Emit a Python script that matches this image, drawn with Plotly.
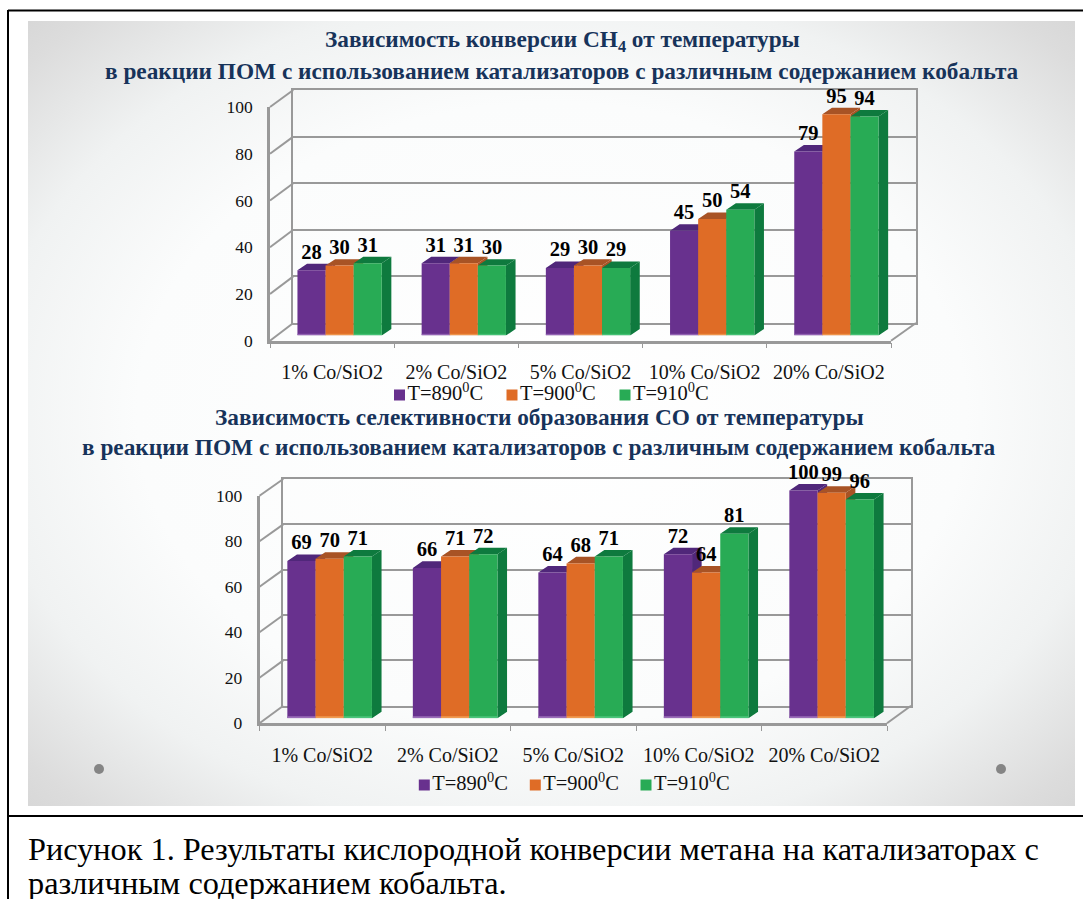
import base64
import plotly.graph_objects as go

categories = ["1% Co/SiO2", "2% Co/SiO2", "5% Co/SiO2", "10% Co/SiO2", "20% Co/SiO2"]
series_names = ["T=890<sup>0</sup>C", "T=900<sup>0</sup>C", "T=910<sup>0</sup>C"]
conv_890 = [28, 31, 29, 45, 79]
conv_900 = [30, 31, 30, 50, 95]
conv_910 = [31, 30, 29, 54, 94]
sel_890 = [69, 66, 64, 72, 100]
sel_900 = [70, 71, 68, 64, 99]
sel_910 = [71, 72, 71, 81, 96]
y_ticks = [0, 20, 40, 60, 80, 100]

W, H = 1083, 899
SERIF = "Liberation Serif"
FRONT = ["#68318E", "#DF6C26", "#28AB55"]
DARK = ["#50277A", "#A85325", "#0E7A3E"]
LIGHT = ["#9A6CB8", "#F09A50", "#4AC47A"]
GRID = "#999999"
NAVY = "#17335A"
Y_TOP = 125


def fx(p):
    return p / W


def fy(p):
    return 1 - p / H


svg = (
    '<svg xmlns="http://www.w3.org/2000/svg" width="1047" height="785">'
    '<defs><radialGradient id="g" cx="0.5" cy="0.5" r="0.72">'
    '<stop offset="0" stop-color="#ffffff"/><stop offset="0.55" stop-color="#fbfcfc"/>'
    '<stop offset="0.75" stop-color="#f0f2f2"/><stop offset="0.93" stop-color="#dcdcdc"/>'
    '<stop offset="1" stop-color="#d6d6d6"/>'
    '</radialGradient></defs><rect width="1047" height="785" fill="url(#g)"/></svg>'
)
bg = "data:image/svg+xml;base64," + base64.b64encode(svg.encode()).decode()

fig = go.Figure()
layout = dict(
    width=W, height=H, margin=dict(l=0, r=0, t=0, b=0, pad=0, autoexpand=False), autosize=False,
    paper_bgcolor="white", plot_bgcolor="rgba(0,0,0,0)", showlegend=False,
    barmode="overlay", hovermode=False,
    font=dict(family=SERIF, color="black", size=16),
    images=[dict(source=bg, xref="paper", yref="paper", x=fx(28), y=fy(21),
                 sizex=1047 / W, sizey=785 / H, sizing="stretch", layer="below",
                 xanchor="left", yanchor="top")],
)
shapes = []
annotations = []

# page axis for frame, dots and legend keys
layout["xaxis"] = dict(domain=[0, 1], range=[0, W], visible=False)
layout["yaxis"] = dict(domain=[0, 1], range=[H, 0], visible=False)


def seg(x0, y0, x1, y1, color=GRID, width=2, layer="below"):
    shapes.append(dict(type="line", xref="x", yref="y", x0=x0, y0=y0, x1=x1, y1=y1,
                       line=dict(color=color, width=width), layer=layer))


seg(8, 10.5, W, 10.5, "black", 2)
seg(8, 10, 8, H, "black", 2)
seg(8, 816, W, 816, "black", 2)

fig.add_trace(go.Scatter(x=[99, 1001], y=[769, 769], xaxis="x", yaxis="y", mode="markers",
                         marker=dict(color="#858585", size=10)))


def chart(n, values, g, leg_x, leg_y):
    """n: first axis number; g: pixel geometry of this chart."""
    back, front, faces, bars = n, n + 1, n + 2, n + 3
    full_range = [-0.5, len(categories) - 0.5]
    pitch = (g["fx1"] - g["fx0"]) / len(categories)
    bar_w = g["bar_px"] / pitch
    dx = g["dx"] / pitch
    unit = (g["bar_y0"] - g["bar_y100"]) / 100
    dy = g["dy"] / unit

    # back wall
    layout[f"xaxis{back}"] = dict(domain=[fx(g["bx0"]), fx(g["bx1"])], range=[0, 1], anchor=f"y{back}",
                                  showgrid=False, showticklabels=False, ticks="",
                                  showline=True, linecolor=GRID, linewidth=2, mirror=True)
    layout[f"yaxis{back}"] = dict(domain=[fy(g["by0"]), fy(g["by100"])], range=[0, 100], anchor=f"x{back}",
                                  tickvals=y_ticks, showticklabels=False, ticks="", showgrid=True,
                                  gridcolor=GRID, gridwidth=2, zeroline=False,
                                  showline=True, linecolor=GRID, linewidth=2, mirror=True)
    fig.add_trace(go.Scatter(x=[0], y=[0], xaxis=f"x{back}", yaxis=f"y{back}", mode="none"))
    # front axes
    layout[f"xaxis{front}"] = dict(domain=[fx(g["fx0"]), fx(g["fx1"])], range=full_range, anchor=f"y{front}",
                                   tickvals=list(range(len(categories))), ticktext=categories,
                                   ticks="", ticklabelstandoff=g["xoff"], showgrid=False, zeroline=False,
                                   showline=True, linecolor=GRID, linewidth=2.5,
                                   tickfont=dict(family=SERIF, size=20, color="#111111"),
                                   minor=dict(tickvals=[i - 0.5 for i in range(len(categories) + 1)],
                                              ticks="outside", ticklen=5, tickwidth=1, tickcolor=GRID))
    layout[f"yaxis{front}"] = dict(domain=[fy(g["fy0"]), fy(g["fy100"])], range=[0, 100], anchor=f"x{front}",
                                   tickvals=y_ticks, ticks="", ticklabelstandoff=11, showgrid=False,
                                   zeroline=False, showline=True, linecolor=GRID, linewidth=2.5,
                                   tickfont=dict(family=SERIF, size=17.5, color="#111111"))
    fig.add_trace(go.Scatter(x=[0], y=[0], xaxis=f"x{front}", yaxis=f"y{front}", mode="none"))
    # bars + faces share the same mapping; the range runs past 100 so labels of tall bars stay drawn
    y_top_px = g["bar_y0"] - (g["bar_y0"] - g["bar_y100"]) * Y_TOP / 100
    for ax in (faces, bars):
        layout[f"xaxis{ax}"] = dict(domain=[fx(g["fx0"] + g["off"]), fx(g["fx1"] + g["off"])], range=full_range,
                                    anchor=f"y{ax}", visible=False)
        layout[f"yaxis{ax}"] = dict(domain=[fy(g["bar_y0"]), fy(y_top_px)], range=[0, Y_TOP],
                                    anchor=f"x{ax}", visible=False)

    # connectors from the front axis to the back wall
    for t in y_ticks:
        y_f = g["fy0"] + (g["fy100"] - g["fy0"]) * t / 100
        y_b = g["by0"] + (g["by100"] - g["by0"]) * t / 100
        seg(g["fx0"], y_f, g["bx0"], y_b)
    seg(g["fx1"], g["fy0"], g["bx1"], g["by0"])

    for j, vals in enumerate(values):
        xs, ys = [], []
        tx, ty = [], []
        for i, v in enumerate(vals):
            c = i + (j - 1) * bar_w
            l, r = c - bar_w / 2, c + bar_w / 2
            xs += [r, r + dx, r + dx, r, r, None]
            ys += [0, dy, v + dy, v, 0, None]
            tx += [l, l + dx, r + dx, r, l, None]
            ty += [v, v + dy, v + dy, v, v, None]
        for px_, py_ in ((xs, ys), (tx, ty)):
            fig.add_trace(go.Scatter(x=px_, y=py_, xaxis=f"x{faces}", yaxis=f"y{faces}", mode="lines",
                                     fill="toself", fillcolor=DARK[j], line=dict(width=0)))
    for j, vals in enumerate(values):
        pos = [i + (j - 1) * bar_w for i in range(len(vals))]
        fig.add_trace(go.Bar(x=pos, y=vals, width=bar_w, xaxis=f"x{bars}", yaxis=f"y{bars}",
                             marker=dict(color=FRONT[j], line=dict(width=0))))
    # pale rim along the foot of each bar
    for j, vals in enumerate(values):
        sx, sy = [], []
        for i in range(len(vals)):
            c = i + (j - 1) * bar_w
            sx += [c - bar_w / 2, c + bar_w / 2, None]
            sy += [0.5, 0.5, None]
        fig.add_trace(go.Scatter(x=sx, y=sy, xaxis=f"x{bars}", yaxis=f"y{bars}", mode="lines",
                                 line=dict(color=LIGHT[j], width=g["rim"])))
    for j, vals in enumerate(values):
        pos = [i + (j - 1) * bar_w for i in range(len(vals))]
        fig.add_trace(go.Scatter(x=pos, y=[v + dy for v in vals], xaxis=f"x{bars}", yaxis=f"y{bars}",
                                 mode="text", text=[str(v) for v in vals], textposition="top center",
                                 cliponaxis=False,
                                 textfont=dict(family=SERIF, size=20.5, color="black", weight="bold")))
    # legend keys
    for j, name in enumerate(series_names):
        fig.add_trace(go.Scatter(x=[leg_x[j]], y=[leg_y], xaxis="x", yaxis="y", mode="markers+text",
                                 marker=dict(symbol="square", size=11, color=FRONT[j]),
                                 text=[name], textposition="middle right", cliponaxis=False,
                                 textfont=dict(family=SERIF, size=20.5, color="#111111")))


chart(2, [conv_890, conv_900, conv_910],
      dict(bx0=293.3, bx1=916, by0=323, by100=90, fx0=270, fx1=891, fy0=340.7, fy100=107,
           bar_y0=335.5, bar_y100=102.5, off=7.5, bar_px=28.1, dx=9.6, dy=6.4, xoff=12, rim=1),
      [399.5, 512, 625], 395)
chart(6, [sel_890, sel_900, sel_910],
      dict(bx0=283.3, bx1=911, by0=705.7, by100=479, fx0=259.5, fx1=887, fy0=723.3, fy100=495.7,
           bar_y0=718.3, bar_y100=490.5, off=7.4, bar_px=28.2, dx=9.6, dy=6.6, xoff=12, rim=2),
      [424.3, 535.3, 646], 785)


def text(s, x, y, size, color, bold=False, anchor="center"):
    annotations.append(dict(text=f"<b>{s}</b>" if bold else s, xref="paper", yref="paper", x=fx(x), y=fy(y),
                            xanchor=anchor, yanchor="middle", showarrow=False,
                            font=dict(family=SERIF, size=size, color=color)))


line_2 = "в реакции ПОМ с использованием катализаторов с различным содержанием кобальта"
text("Зависимость конверсии СН<sub>4</sub> от температуры", 562, 41, 23.3, NAVY, True)
text(line_2, 562, 71, 23.3, NAVY, True)
text("Зависимость селективности образования СО от температуры", 539, 417, 23.3, NAVY, True)
text(line_2, 539, 447, 23.3, NAVY, True)
text("Рисунок 1. Результаты кислородной конверсии метана на катализаторах с", 26, 849, 32.3, "black", anchor="left")
text("различным содержанием кобальта.", 26, 883, 32.3, "black", anchor="left")

layout["shapes"] = shapes
layout["annotations"] = annotations
fig.update_layout(**layout)
fig.write_html("out.html", config=dict(displayModeBar=False),
               post_script="document.body.style.margin='0';document.body.style.overflow='hidden';")
